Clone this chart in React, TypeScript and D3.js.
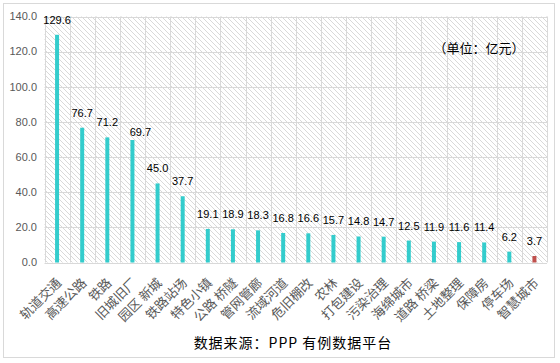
import React from "react";
import * as d3 from "d3";

const categories = [
  "轨道交通", "高速公路", "铁路", "旧城旧厂", "园区 新城", "铁路站场", "特色小镇",
  "公路 桥隧", "管网管廊", "流域河道", "危旧棚改", "农林", "打包建设", "污染治理",
  "海绵城市", "道路 桥梁", "土地整理", "保障房", "停车场", "智慧城市",
];
const values = [
  129.6, 76.7, 71.2, 69.7, 45.0, 37.7, 19.1, 18.9, 18.3, 16.8, 16.6, 15.7, 14.8,
  14.7, 12.5, 11.9, 11.6, 11.4, 6.2, 3.7,
];
const yTicks = [0, 20, 40, 60, 80, 100, 120, 140];
const unitLabel = "（单位：亿元）";
const sourceLabel = "数据来源：PPP 有例数据平台";

const width = 560;
const height = 363;
const marginTop = 16.5;
const marginRight = 13;
const marginBottom = 100.5;
const marginLeft = 44.5;

const grid = "#d9d9d9";
const teal = "#33cccc";
const red = "#c0504d";
const latin = "'Liberation Sans', Arial, sans-serif";
const cjk = "'Noto Sans CJK SC', sans-serif";

const App = () => {
  const x = d3
    .scaleBand()
    .domain(categories)
    .range([marginLeft, width - marginRight]);

  const y = d3
    .scaleLinear()
    .domain([0, 140])
    .range([height - marginBottom, marginTop]);

  const barW = 4;

  return (
    <svg
      width={width}
      height={height}
      style={{ position: "absolute", left: 0, top: 0 }}
    >
      <defs>
        <pattern
          id="hatch"
          width={5}
          height={5}
          patternUnits="userSpaceOnUse"
        >
          <path
            d="M0,0 L5,5 M-1,4 L1,6 M4,-1 L6,1"
            stroke="#cfcfcf"
            strokeWidth={0.8}
          />
        </pattern>
      </defs>
      <rect width={width} height={height} fill="#fff" />
      <rect
        x={3.5}
        y={3.5}
        width={551}
        height={354}
        fill="none"
        stroke={grid}
      />
      <rect
        x={marginLeft}
        y={marginTop}
        width={width - marginRight - marginLeft}
        height={height - marginBottom - marginTop}
        fill="url(#hatch)"
      />

      {/* gridlines */}
      <g stroke={grid} strokeWidth={1}>
        {yTicks.map((t) => (
          <line
            key={t}
            x1={marginLeft}
            x2={width - marginRight}
            y1={Math.round(y(t)) + 0.5}
            y2={Math.round(y(t)) + 0.5}
          />
        ))}
        {categories.map((c) => (
          <line
            key={c}
            x1={Math.round(x(c)!) + 0.5}
            x2={Math.round(x(c)!) + 0.5}
            y1={marginTop}
            y2={height - marginBottom}
          />
        ))}
        <line
          x1={width - marginRight + 0.5}
          x2={width - marginRight + 0.5}
          y1={marginTop}
          y2={height - marginBottom}
        />
      </g>

      {/* y tick labels */}
      <g fill="#595959" fontFamily={latin} fontSize={11} textAnchor="end">
        {yTicks.map((t) => (
          <text key={t} x={37} y={y(t)} dy="0.35em">
            {d3.format(".1f")(t)}
          </text>
        ))}
      </g>

      {/* bars */}
      {values.map((v, i) => {
        const cx = x(categories[i])! + x.bandwidth() / 2;
        return (
          <rect
            key={i}
            x={cx - barW / 2}
            y={y(v)}
            width={barW}
            height={y(0) - y(v)}
            fill={i === values.length - 1 ? red : teal}
          />
        );
      })}

      {/* value labels */}
      <g fill="#000" fontFamily={latin} fontSize={11} textAnchor="middle">
        {values.map((v, i) => {
          const cx = x(categories[i])! + x.bandwidth() / 2;
          // 69.7 was nudged by hand in the original
          const dx = i === 3 ? 8 : 0;
          const dy = i === 3 ? 7 : 0;
          return (
            <text key={i} x={cx + dx} y={y(v) - 11 + dy}>
              {v.toFixed(1)}
            </text>
          );
        })}
      </g>

      {/* category labels */}
      <g fill="#595959" fontFamily={cjk} fontSize={13} textAnchor="end">
        {categories.map((c) => {
          const cx = x(c)! + x.bandwidth() / 2;
          return (
            <text
              key={c}
              transform={`translate(${cx + 2},${height - marginBottom + 18}) rotate(-45)`}
              dy="0.35em"
            >
              {c}
            </text>
          );
        })}
      </g>

      <text
        x={479}
        y={48}
        dy="0.35em"
        textAnchor="middle"
        fontFamily={cjk}
        fontSize={13}
        fill="#000"
      >
        {unitLabel}
      </text>

      <text
        x={293}
        y={343}
        dy="0.35em"
        textAnchor="middle"
        fontFamily={cjk}
        fontSize={14}
        letterSpacing={1}
        fill="#000"
      >
        {sourceLabel}
      </text>
    </svg>
  );
};

export default App;
